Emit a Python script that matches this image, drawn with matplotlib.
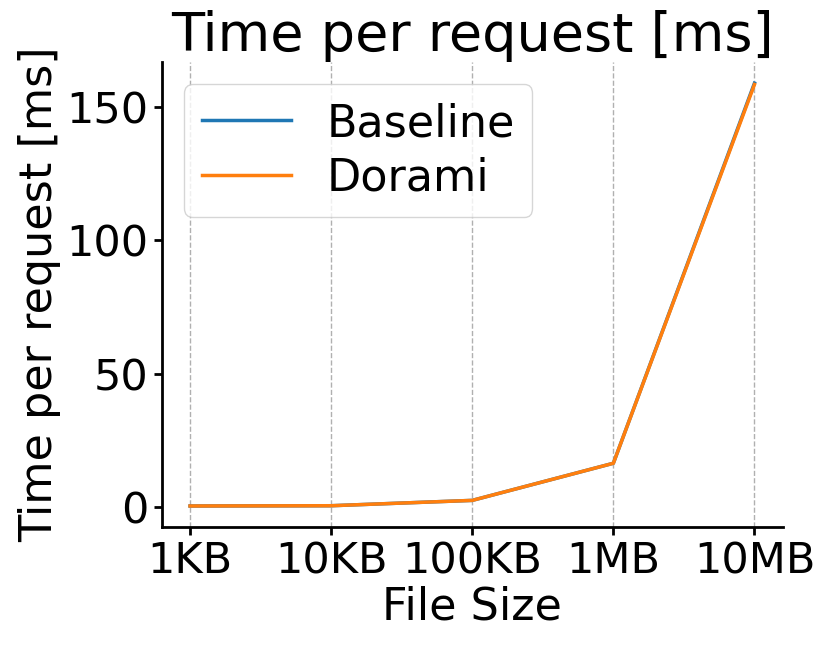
import matplotlib
matplotlib.use("Agg")
import matplotlib.pyplot as plt

sizes = ["1KB", "10KB", "100KB", "1MB", "10MB"]
baseline = [0.5, 0.6, 2.6, 16.5, 158.8]
dorami = [0.5, 0.6, 2.6, 16.5, 158.3]

fig, ax = plt.subplots(figsize=(8.3, 6.46), dpi=100)
fig.subplots_adjust(left=0.195, right=0.943, top=0.904, bottom=0.184)

x = range(len(sizes))
ax.plot(x, baseline, label="Baseline", color="#1f77b4", linewidth=2.5)
ax.plot(x, dorami, label="Dorami", color="#ff7f0e", linewidth=2.5)

ax.set_xticks(list(x))
ax.set_xticklabels(sizes)
ax.set_yticks([0, 50, 100, 150])
ax.tick_params(labelsize=31, width=2, length=6)
ax.set_xlabel("File Size", fontsize=32, labelpad=2)
ax.set_ylabel("Time per request [ms]", fontsize=32, labelpad=4)
ax.set_title("Time per request [ms]", fontsize=39)
ax.grid(axis="x", linestyle="--", color="#b0b0b0", linewidth=1)
for s in ["top", "right"]:
    ax.spines[s].set_visible(False)
for s in ["left", "bottom"]:
    ax.spines[s].set_linewidth(2)
ax.legend(fontsize=32, loc="upper left", labelspacing=0.25)

plt.savefig("out.png")
